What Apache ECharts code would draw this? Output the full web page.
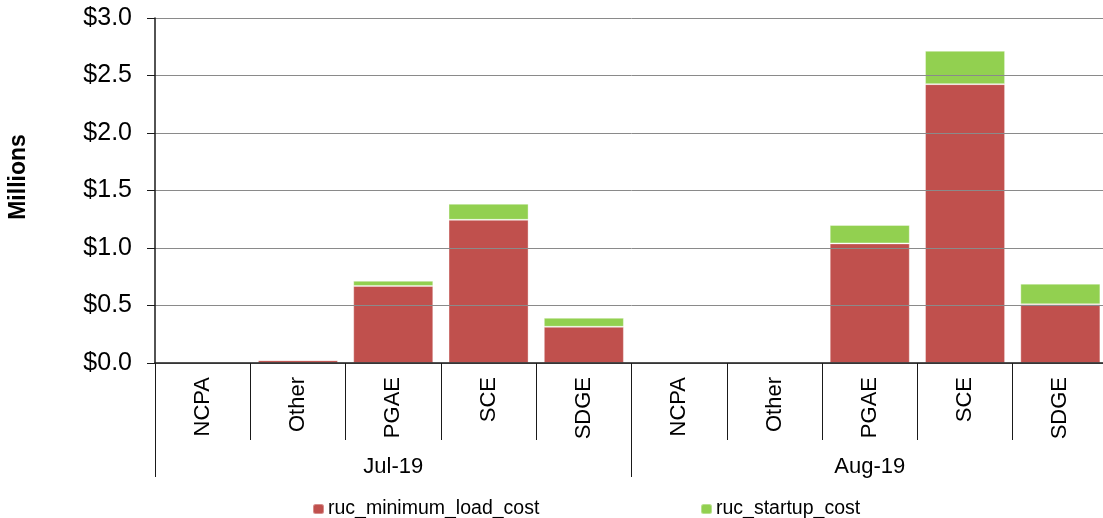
<!DOCTYPE html>
<html>
<head>
<meta charset="utf-8">
<script src="https://cdn.jsdelivr.net/npm/echarts@6/dist/echarts.min.js"></script>
<style>
html,body{margin:0;padding:0;background:#fff;overflow:hidden;}
#chart{width:1110px;height:518px;}
</style>
</head>
<body>
<div id="chart"></div>
<script>
var months = ['Jul-19', 'Aug-19'];
var zones = ['NCPA', 'Other', 'PGAE', 'SCE', 'SDGE', 'NCPA', 'Other', 'PGAE', 'SCE', 'SDGE'];
var minLoadCost = [0, 0.025, 0.67, 1.245, 0.315, 0, 0.003, 1.04, 2.425, 0.51];
var startupCost = [0, 0.002, 0.045, 0.14, 0.078, 0, 0.002, 0.16, 0.29, 0.18];
var yTicks = [0, 0.5, 1.0, 1.5, 2.0, 2.5, 3.0];

var FONT = '"Liberation Sans", Arial, sans-serif';
var chart = echarts.init(document.getElementById('chart'));
chart.setOption({
  backgroundColor: '#ffffff',
  animation: false,
  grid: {left: 155, top: 18, width: 953, height: 345, containLabel: false},
  legend: [
    {data: ['ruc_minimum_load_cost'], left: 312, top: 499, padding: 0, itemWidth: 11, itemHeight: 10, itemGap: 0,
     textStyle: {fontFamily: FONT, fontSize: 19.5, color: '#000', padding: [0, 0, 0, -1]}},
    {data: ['ruc_startup_cost'], left: 700, top: 499, padding: 0, itemWidth: 11, itemHeight: 10, itemGap: 0,
     textStyle: {fontFamily: FONT, fontSize: 19.5, color: '#000', padding: [0, 0, 0, -1]}}
  ],
  graphic: [{
    type: 'text', x: 19, y: 177, rotation: Math.PI / 2,
    style: {text: 'Millions', font: 'bold 23px ' + FONT, fill: '#000', textAlign: 'center', textVerticalAlign: 'middle'}
  }],
  xAxis: [
    {
      type: 'category', data: zones, position: 'bottom', z: 5,
      axisLine: {show: true, lineStyle: {color: '#1a1a1a', width: 1.5}},
      axisTick: {show: true, interval: 0, length: 77, lineStyle: {color: '#1a1a1a', width: 1}},
      axisLabel: {interval: 0, rotate: 90, margin: 14, fontFamily: FONT, fontSize: 22, color: '#000'},
      splitLine: {show: false}
    },
    {
      type: 'category', data: months, position: 'bottom', z: 5,
      axisLine: {show: false},
      axisTick: {show: true, interval: 0, length: 114, lineStyle: {color: '#1a1a1a', width: 1}},
      axisLabel: {interval: 0, margin: 93, fontFamily: FONT, fontSize: 22, color: '#000'},
      splitLine: {show: false}
    }
  ],
  yAxis: {
    type: 'value', min: yTicks[0], max: yTicks[yTicks.length - 1], interval: 0.5, z: 5,
    axisLine: {show: true, lineStyle: {color: '#1a1a1a', width: 1.5}},
    axisTick: {show: true, length: 8, lineStyle: {color: '#1a1a1a'}},
    axisLabel: {margin: 23, fontFamily: FONT, fontSize: 25, color: '#000',
      formatter: function (v) { return '$' + v.toFixed(1); }},
    splitLine: {show: true, lineStyle: {color: '#8a8a8a', width: 1}}
  },
  series: [
    {name: 'ruc_minimum_load_cost', type: 'bar', stack: 'cost', xAxisIndex: 0, data: minLoadCost,
     barCategoryGap: '16%', itemStyle: {color: '#C0504D', borderColor: 'rgba(255,255,255,0.35)', borderWidth: 1}},
    {name: 'ruc_startup_cost', type: 'bar', stack: 'cost', xAxisIndex: 0, data: startupCost,
     barCategoryGap: '16%', itemStyle: {color: '#92D050', borderColor: 'rgba(255,255,255,0.35)', borderWidth: 1}}
  ]
});
</script>
</body>
</html>
